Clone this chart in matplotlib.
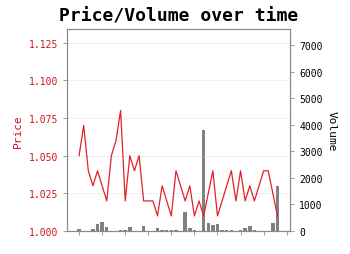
import matplotlib
matplotlib.use("Agg")
import matplotlib.pyplot as plt
import numpy as np

plt.rcParams['font.family'] = ['DejaVu Sans Mono']

price = [1.05, 1.07, 1.04, 1.03, 1.04, 1.03, 1.02, 1.05, 1.06, 1.08,
         1.02, 1.05, 1.04, 1.05, 1.02, 1.02, 1.02, 1.01, 1.03, 1.02,
         1.01, 1.04, 1.03, 1.02, 1.03, 1.01, 1.02, 1.01, 1.025, 1.04,
         1.01, 1.02, 1.03, 1.04, 1.02, 1.04, 1.02, 1.03, 1.02, 1.03,
         1.04, 1.04, 1.025, 1.01]
volume = [90, 0, 0, 60, 255, 330, 145, 0, 0, 50,
          50, 140, 0, 0, 175, 0, 0, 105, 40, 30,
          40, 40, 0, 710, 105, 50, 0, 3800, 315, 235,
          255, 50, 50, 50, 0, 50, 110, 175, 40, 20,
          0, 0, 295, 1680]
days = np.arange(len(price))
price_ticks = [1.000, 1.025, 1.050, 1.075, 1.100, 1.125]
volume_ticks = [0, 1000, 2000, 3000, 4000, 5000, 6000, 7000]

red = '#e3202a'
label_red = '#d0141e'
spine = '#8a8a8a'

fig = plt.figure(figsize=(3.5, 2.55), dpi=100)
ax = fig.add_axes([0.191, 0.09, 0.638, 0.792])
ax2 = ax.twinx()

ax2.bar(days, volume, width=0.75, color='#808080', zorder=1)
ax.plot(days, price, color=red, lw=0.9, zorder=3)

ax.set_zorder(ax2.get_zorder() + 1)
ax.patch.set_visible(False)

ax.set_xlim(-2.65, 45.75)
ax.set_ylim(min(price), max(price) * 1.05)
ax2.set_ylim(0, max(volume) * 2)

ax.set_yticks(price_ticks)
ax.set_yticklabels([f"{t:.3f}" for t in price_ticks])
ax2.set_yticks(volume_ticks)
ax.set_xticks(np.arange(0, 46, 5))
ax.set_xticklabels([])

ax.grid(axis='y', linestyle='--', linewidth=0.5, color='#d5d5d5', dashes=(2, 2))
ax.set_axisbelow(True)

ax.tick_params(axis='y', colors=spine, labelcolor=label_red, labelsize=7, length=3, width=0.6)
ax.tick_params(axis='x', colors=spine, length=3, width=0.6)
ax2.tick_params(axis='y', colors=spine, labelcolor='black', labelsize=7, length=3, width=0.6)

for a in (ax, ax2):
    for s in a.spines.values():
        s.set_color(spine)
        s.set_linewidth(0.8)

ax.set_ylabel('Price', color=label_red, fontsize=8, labelpad=4)
ax2.set_ylabel('Volume', color='black', fontsize=8, rotation=270, labelpad=10)
ax.set_title('Price/Volume over time', fontsize=13, fontweight='bold', pad=6)

fig.savefig('out.png', dpi=100)
